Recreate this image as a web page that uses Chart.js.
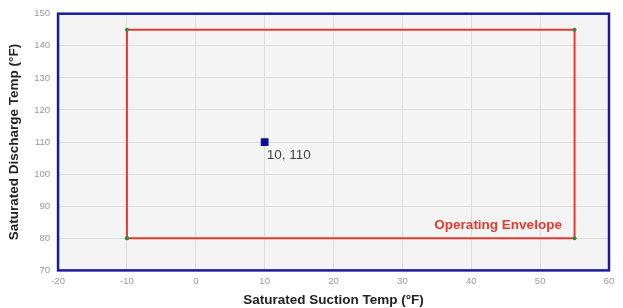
<!DOCTYPE html>
<html><head><meta charset="utf-8">
<script src="https://cdn.jsdelivr.net/npm/chart.js@4.4.1/dist/chart.umd.min.js"></script>
<style>html,body{margin:0;padding:0;background:#fff;}#wrap{width:623px;height:308px;}</style>
</head><body><div id="wrap"><canvas id="c"></canvas></div>
<script>
const envelopeX = [-10, -10, 55, 55, -10];
const envelopeY = [80, 145, 145, 80, 80];
const pointX = [10];
const pointY = [110];
const pointLabel = "10, 110";
const envelopeLabel = "Operating Envelope";
const envelopeLabelPos = [43.9, 84];
const xTitle = "Saturated Suction Temp (°F)";
const yTitle = "Saturated Discharge Temp (°F)";

const bgPlugin = {
  id: 'bg',
  beforeDraw(chart) {
    const {ctx, chartArea: a} = chart;
    ctx.save();
    ctx.fillStyle = '#f4f4f4';
    ctx.fillRect(a.left, a.top, a.right - a.left, a.bottom - a.top);
    ctx.restore();
  },
  afterDraw(chart) {
    const {ctx, chartArea: a, scales} = chart;
    ctx.save();
    ctx.strokeStyle = '#1a1a9e';
    ctx.lineWidth = 2.5;
    ctx.strokeRect(a.left, a.top, a.right - a.left, a.bottom - a.top);
    const px = scales.x.getPixelForValue(pointX[0]);
    const py = scales.y.getPixelForValue(pointY[0]);
    ctx.fillStyle = '#444';
    ctx.font = '13.5px "Liberation Sans", Arial, sans-serif';
    ctx.textAlign = 'left';
    ctx.textBaseline = 'middle';
    ctx.fillText(pointLabel, px + 2, py + 13);
    ctx.fillStyle = '#e53a2e';
    ctx.font = 'bold 13.5px "Liberation Sans", Arial, sans-serif';
    ctx.textAlign = 'center';
    ctx.fillText(envelopeLabel, scales.x.getPixelForValue(envelopeLabelPos[0]), scales.y.getPixelForValue(envelopeLabelPos[1]));
    ctx.restore();
  }
};

new Chart(document.getElementById('c'), {
  type: 'scatter',
  data: {
    datasets: [
      {
        label: 'Envelope',
        data: envelopeX.map((x, i) => ({x, y: envelopeY[i]})),
        showLine: true,
        borderColor: '#e8392e',
        borderWidth: 2,
        pointRadius: 2,
        pointBackgroundColor: '#2e8b3e',
        pointBorderColor: '#2e8b3e',
        pointBorderWidth: 0,
        fill: false,
        tension: 0
      },
      {
        label: 'Point',
        data: pointX.map((x, i) => ({x, y: pointY[i]})),
        pointStyle: 'rect',
        pointRadius: 5.5,
        pointBackgroundColor: '#0d0d9a',
        pointBorderColor: '#0d0d9a',
        pointBorderWidth: 0
      }
    ]
  },
  options: {
    responsive: true,
    maintainAspectRatio: false,
    animation: false,
    layout: {autoPadding: false, padding: {left: 6, right: 14, top: 9, bottom: 0}},
    plugins: {legend: {display: false}, tooltip: {enabled: false}},
    scales: {
      x: {
        type: 'linear', min: -20, max: 60,
        ticks: {stepSize: 10, color: '#999', font: {size: 9.5, family: 'Liberation Sans'}, padding: 5},
        grid: {color: '#dcdcdc', drawTicks: false},
        border: {display: false},
        title: {display: true, text: xTitle, color: '#222', font: {size: 13.5, weight: 'bold', family: 'Liberation Sans'}, padding: {top: 0, bottom: 0}}
      },
      y: {
        type: 'linear', min: 70, max: 150,
        ticks: {stepSize: 10, color: '#999', font: {size: 9.5, family: 'Liberation Sans'}, padding: 8},
        grid: {color: '#dcdcdc', drawTicks: false},
        border: {display: false},
        title: {display: true, text: yTitle, color: '#222', font: {size: 13.5, weight: 'bold', family: 'Liberation Sans'}, padding: {top: 0, bottom: 4}}
      }
    }
  },
  plugins: [bgPlugin]
});
</script>
</body></html>
